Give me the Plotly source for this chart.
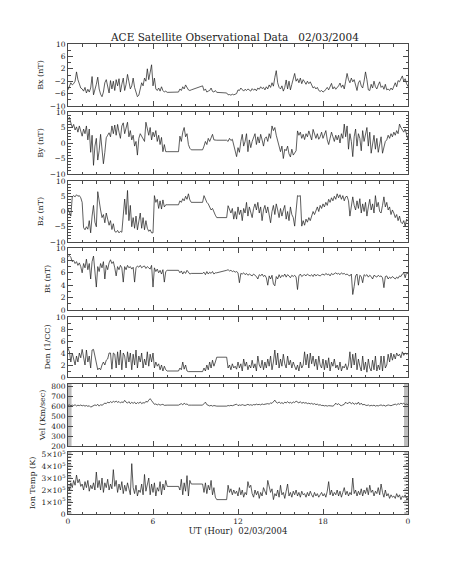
import plotly.graph_objects as go

N = None
# time grid in hours (0.1 h steps), gaps = None (connected straight, as in the source plot)
hours = [round(i * 0.1, 1) for i in range(241)]

bx = [
 -4.8,-3.5,-2.5,-3.2,-2.8,-2.0,1.0,-1.5,-3.0,-4.2,
 -4.5,-5.2,-4.0,-5.8,-4.6,-5.5,-4.2,-0.5,-6.4,-5.0,
 -3.0,-0.7,-4.5,-6.2,-7.0,-5.5,-2.5,-1.5,-4.0,-5.8,
 -1.8,-4.5,-2.0,-5.0,-1.5,-3.5,-1.2,-5.5,-3.0,-1.0,
 -5.0,-3.0,0.2,-2.5,-4.5,-3.5,-1.0,-4.0,-6.0,-7.0,
 -6.5,-4.5,-2.5,-3.5,-1.0,-2.0,2.0,-1.5,0.5,3.3,
 -3.5,-1.0,-4.5,-5.0,-4.2,-5.2,-3.8,-5.0,-5.5,-5.2,
 -5.6,N,N,N,N,N,N,N,-5.5,-4.5,
 -5.0,-3.8,-4.5,-3.2,-4.0,-4.8,-5.0,-4.8,N,N,
 N,N,N,N,N,-3.5,-5.0,-4.5,-5.5,-5.2,
 -5.0,-4.2,-5.3,-5.5,-5.0,-5.6,N,N,N,N,
 N,N,-5.8,-6.4,-6.3,-6.5,-6.2,-6.4,-6.3,-6.0,
 -4.8,-5.0,-4.2,-4.8,-5.2,-4.6,-5.0,-4.5,-4.8,-5.2,
 -4.4,-4.9,-4.5,-5.1,-4.2,-4.6,-3.8,-4.4,-4.0,-4.8,
 -3.8,-4.5,-3.2,-4.0,-2.5,-3.6,-0.8,1.4,-2.5,-4.0,
 -4.5,-3.5,-5.2,-4.0,-1.6,-4.5,-2.0,-4.8,-3.0,-1.5,
 0.5,-2.0,-1.2,-2.5,-1.0,-2.8,-1.5,-2.2,-3.0,-2.0,
 -2.8,-2.2,-3.5,-4.2,-3.8,-4.5,-4.0,-5.0,-5.3,-5.0,
 -5.5,-5.2,-4.6,-4.0,-4.8,-3.5,-2.7,-4.5,-3.8,-4.6,
 -4.2,-3.5,-2.6,-4.0,-3.2,-4.5,-2.0,0.5,-1.5,-2.5,
 -1.0,-2.2,-1.5,-3.0,-5.0,-2.5,-1.8,-3.5,-4.2,-2.0,
 1.0,-1.5,-4.8,-5.0,-3.0,-4.2,-2.0,-3.8,-4.5,-3.2,
 -2.2,-4.0,-3.5,-4.6,-3.0,-4.8,-4.5,-5.0,-4.2,-4.8,
 -3.5,-2.5,-3.8,-1.8,-2.2,-1.0,-0.3,-2.0,-1.2,-2.8,
 -3.7]

by = [
 7.5,8.3,6.5,5.0,6.0,4.2,5.2,3.5,5.5,4.0,
 2.2,4.5,3.0,5.5,1.0,4.5,-3.0,2.5,-7.2,-1.0,
 1.5,-5.5,-2.5,2.8,-1.5,-6.7,-3.0,1.7,2.5,3.3,
 2.0,5.5,3.0,5.8,2.5,6.0,3.5,1.5,5.5,6.5,
 3.0,5.0,6.7,2.0,4.0,1.0,2.5,-1.0,0.5,-3.9,
 1.5,3.0,2.0,1.0,0.5,6.7,4.0,2.5,5.0,1.0,
 3.5,2.0,4.0,0.5,2.5,-0.5,1.8,-2.8,-0.5,-2.8,
 -2.8,N,N,N,N,N,N,N,-2.8,2.2,
 0.5,3.5,5.0,2.0,3.0,-0.5,-1.7,-2.2,N,N,
 N,N,N,N,N,-2.2,-1.0,0.5,-0.5,1.5,
 0.5,2.0,2.8,1.0,0.9,0.9,N,N,N,N,
 N,N,0.9,0.5,1.5,0.8,1.2,-1.0,-2.5,-4.4,
 -1.5,-3.0,0.5,2.8,-1.0,0.5,3.0,-2.8,1.0,-1.5,
 0.5,1.5,3.0,-0.5,2.0,0.0,2.8,1.0,-1.0,1.5,
 2.0,0.5,3.0,1.5,5.5,4.0,5.0,2.5,0.5,-1.0,
 -2.8,-1.0,-5.0,-2.0,-2.5,-1.0,-3.5,-4.5,-2.0,-3.9,
 -3.0,-2.5,3.9,2.5,3.5,1.5,2.8,1.1,3.0,2.0,
 3.9,2.0,1.0,4.4,2.5,1.5,3.0,1.2,2.0,3.5,
 1.5,2.5,4.0,1.0,-0.5,1.5,3.5,2.0,0.5,2.5,
 1.0,2.5,0.0,3.0,1.5,6.1,2.0,5.5,-2.0,3.0,
 0.5,-4.4,2.0,4.5,-1.0,3.0,1.5,-2.5,4.0,0.5,
 2.5,5.0,-1.0,3.5,-3.3,0.5,2.5,-2.0,1.5,-3.0,
 0.0,2.0,-3.3,-1.5,0.5,1.0,2.5,1.5,3.0,2.0,
 3.5,2.5,4.0,3.0,6.1,5.0,4.0,3.5,4.5,3.0,
 1.0]

bz = [
 0.8,-0.3,-1.5,4.8,5.2,4.8,5.5,5.0,5.2,4.5,
 3.0,-5.3,-6.0,-5.0,-5.8,-3.0,-7.0,-1.5,2.0,-3.5,
 -5.0,6.5,3.0,0.5,-2.0,-1.0,-3.7,-0.5,-2.5,-4.5,
 -3.0,-5.9,-4.0,-6.5,-6.8,-6.2,-7.0,-6.5,-6.8,-2.0,
 4.1,-1.0,6.9,-3.0,2.0,-5.0,-2.0,-5.5,-1.5,-6.0,
 -3.5,-0.5,-5.5,-2.0,-6.0,-3.0,-5.5,-6.5,-6.0,-7.0,
 -7.0,5.2,3.0,4.0,1.0,3.5,0.8,3.8,1.5,2.2,
 2.2,N,N,N,N,N,N,N,2.2,3.5,
 3.0,4.2,3.5,5.0,4.0,5.8,3.8,3.0,N,N,
 N,N,N,N,N,3.0,5.2,4.0,3.0,2.5,
 1.5,0.5,1.0,-0.5,-1.2,-2.0,N,N,N,N,
 N,N,-2.0,1.9,0.5,-0.5,1.0,-2.5,0.0,-2.5,
 1.5,-1.0,0.5,-3.0,1.0,-0.5,3.0,-1.5,1.5,0.0,
 -2.0,1.0,2.5,0.5,3.0,-0.5,1.5,-3.0,0.5,2.0,
 -0.5,1.5,-1.5,-3.7,0.0,2.0,-1.0,2.5,0.5,-2.0,
 1.0,-1.5,0.5,2.0,-2.5,0.0,-3.0,1.5,-1.0,-2.0,
 -4.8,0.5,5.2,5.0,5.2,-4.8,-3.0,-4.5,-2.5,-3.5,
 -2.0,-3.0,-1.5,0.0,-1.0,0.5,1.5,0.0,2.0,1.0,
 2.5,1.5,3.0,2.0,4.0,3.0,4.5,3.5,5.0,4.0,
 5.8,4.5,5.5,4.0,5.2,3.5,4.8,5.0,3.5,-1.5,
 1.0,4.8,2.0,0.5,3.5,1.0,4.2,-0.5,2.5,0.0,
 3.0,-1.5,1.5,4.0,0.5,2.5,-0.5,5.2,1.5,3.0,
 0.0,-0.5,2.0,4.8,1.5,3.0,0.5,1.5,-1.0,0.5,
 -0.5,-2.0,-1.0,-3.0,-1.5,-3.5,-4.0,-3.0,-4.8,-2.5,
 -3.0]

bt = [
 8.6,8.8,8.5,7.8,8.0,7.5,7.8,7.2,7.6,7.0,
 6.0,7.5,6.8,8.2,6.5,7.5,5.0,7.8,8.7,6.5,
 3.7,7.0,6.2,7.5,6.8,7.8,5.0,7.2,6.5,7.6,
 8.1,7.5,7.8,6.8,5.5,7.0,6.5,7.2,6.8,4.5,
 7.0,6.5,7.2,6.8,7.0,6.6,6.9,4.5,6.8,7.1,
 6.9,7.2,6.8,7.0,7.1,6.7,7.0,6.8,6.6,7.2,
 3.7,6.8,6.2,6.6,6.0,6.4,5.8,6.5,4.5,6.2,
 6.4,N,N,N,N,N,N,N,6.4,6.0,
 6.3,5.8,6.2,5.9,6.4,6.0,5.8,5.9,N,N,
 N,N,N,N,N,5.9,6.1,5.7,6.2,5.8,
 6.1,5.9,6.2,5.8,6.0,6.0,N,N,N,N,
 N,N,6.4,6.5,6.3,6.4,6.2,6.3,6.1,6.2,
 6.0,4.4,5.9,5.8,6.0,5.7,5.9,5.6,5.8,5.7,
 5.5,5.8,5.6,5.4,5.0,5.7,5.5,5.8,5.4,5.6,
 5.2,4.0,5.5,5.0,5.6,4.2,3.9,5.4,5.0,5.7,
 5.2,5.6,5.4,5.8,5.3,5.7,5.5,5.2,5.6,5.4,
 5.6,5.3,3.3,5.5,5.8,5.4,5.6,5.7,5.5,5.8,
 5.6,5.5,5.7,5.4,5.8,5.5,5.7,5.6,5.5,5.7,
 5.8,5.6,5.9,5.7,5.8,5.5,5.9,5.7,5.8,6.0,
 5.8,5.9,5.7,6.0,5.8,5.9,5.7,5.8,5.6,5.5,
 5.8,2.5,3.8,5.5,5.8,4.0,5.6,5.4,4.4,5.7,
 5.5,5.7,5.3,5.6,5.4,5.0,5.6,5.5,5.3,5.6,
 5.4,5.5,5.2,3.6,5.4,5.5,5.0,5.3,5.1,5.4,
 5.2,5.0,5.3,5.1,5.5,5.4,5.8,6.0,5.2,6.1,
 5.8]

den = [
 4.8,4.2,2.5,4.0,3.0,2.0,3.5,2.5,4.0,3.2,
 4.6,3.0,2.0,4.5,2.5,3.5,1.5,4.5,4.6,3.5,
 2.0,1.2,1.5,1.2,2.0,2.5,2.0,2.8,3.0,4.0,
 4.0,1.3,4.0,3.8,1.5,4.2,2.0,4.5,1.2,4.0,
 3.5,1.5,4.2,2.5,4.0,1.2,3.8,2.0,4.5,1.5,
 3.5,2.5,4.0,1.5,3.0,2.0,4.2,1.8,3.8,2.5,
 4.0,1.5,2.5,1.8,2.2,1.2,2.0,1.0,1.8,1.2,
 1.0,N,N,N,N,N,N,N,1.0,1.5,
 1.2,2.5,1.3,2.0,1.0,0.9,0.9,0.9,N,N,
 N,N,N,N,N,0.9,1.5,1.0,2.0,1.2,
 2.5,1.5,2.8,1.8,2.5,3.3,N,N,N,N,
 N,N,3.3,1.5,2.0,1.2,2.2,1.5,1.8,1.3,
 2.5,1.5,2.2,1.0,3.0,1.8,2.5,1.2,2.0,1.5,
 2.8,1.5,2.2,1.0,3.5,2.0,1.5,2.8,1.2,2.5,
 1.5,3.0,1.8,3.5,1.2,2.5,4.5,2.0,4.0,1.5,
 3.0,1.8,3.8,2.2,1.5,3.5,2.0,2.8,1.5,2.5,
 1.8,1.2,2.0,1.0,2.5,1.5,2.0,4.2,2.0,3.8,
 1.5,4.0,2.2,3.5,1.8,3.0,1.2,3.5,2.0,1.5,
 3.0,1.2,2.8,1.5,3.2,1.0,2.5,1.8,3.0,1.5,
 2.0,1.2,2.5,1.0,1.8,1.5,2.2,1.2,2.0,4.2,
 1.5,3.8,2.0,4.0,1.2,3.0,1.8,1.0,3.5,1.2,
 2.5,0.8,3.0,1.5,1.0,2.8,1.2,3.5,1.0,2.0,
 1.2,3.5,1.0,3.5,1.5,2.0,3.8,2.5,4.0,2.8,
 3.8,3.0,4.0,3.5,3.8,3.2,4.2,3.6,4.0,3.8,
 3.9]

vel = [
 608,612,604,610,606,614,602,609,605,611,
 603,608,600,606,598,604,590,596,602,612,
 606,618,600,615,608,622,630,625,640,632,
 645,635,648,640,650,638,646,632,642,636,
 658,640,630,645,625,638,628,640,622,636,
 628,642,625,635,630,648,640,660,675,655,
 640,618,622,612,620,610,615,618,608,612,
 610,N,N,N,N,N,N,N,610,615,
 625,612,630,618,622,610,612,610,N,N,
 N,N,N,N,N,610,625,640,615,605,
 602,608,600,606,600,600,N,N,N,N,
 N,N,600,606,603,608,604,610,612,620,
 605,612,608,615,610,606,612,618,610,614,
 608,616,612,620,614,618,612,622,616,620,
 618,625,620,632,628,640,660,638,630,642,
 628,635,625,640,632,645,630,638,628,642,
 636,650,640,632,645,628,638,630,635,625,
 630,622,628,618,625,615,620,610,614,606,
 608,602,606,600,605,603,608,600,610,630,
 615,625,610,605,612,618,640,625,632,640,
 622,635,618,628,620,640,615,630,612,618,
 610,606,612,602,608,604,610,600,606,602,
 608,612,604,610,600,606,612,608,604,610,
 615,620,612,625,618,630,622,628,616,620,
 615]

temp_e5 = [
 2.3,2.0,2.6,2.2,2.8,2.4,3.25,2.6,2.9,2.3,
 2.5,2.0,2.7,2.2,2.8,1.9,2.4,2.1,2.6,2.0,
 3.5,2.2,2.8,2.0,3.0,1.8,2.6,2.2,2.9,2.0,
 2.5,2.1,3.7,2.3,2.8,1.8,2.5,2.0,2.7,1.7,
 2.4,1.9,2.6,2.0,1.6,4.2,2.2,1.7,2.4,1.5,
 2.0,1.8,2.5,1.6,3.3,1.9,2.4,3.0,1.6,2.5,
 1.8,2.6,1.5,2.2,1.9,2.7,1.6,2.5,2.0,2.8,
 2.3,N,N,N,N,N,N,N,2.3,2.0,
 2.9,1.6,2.6,1.9,3.2,1.5,2.8,2.5,N,N,
 N,N,N,N,N,2.5,1.8,2.6,1.7,2.4,
 2.0,2.8,1.6,2.2,1.4,1.2,N,N,N,N,
 N,N,1.2,2.4,1.8,2.1,1.6,2.0,1.7,1.9,
 1.5,2.2,1.6,2.0,1.4,1.8,1.6,2.7,2.2,2.4,
 1.7,1.4,2.0,1.6,1.9,1.3,1.8,1.5,2.2,1.9,
 1.6,2.8,2.3,1.8,2.1,1.2,1.7,1.5,2.0,1.4,
 2.4,1.6,1.8,1.3,1.9,2.5,1.5,1.8,1.4,1.9,
 1.6,2.0,1.5,1.8,1.4,1.9,1.6,1.7,1.4,1.8,
 1.5,1.9,1.6,1.4,1.8,1.5,1.7,1.4,1.6,1.8,
 1.5,1.7,1.4,1.9,2.7,1.6,2.0,1.5,1.8,1.6,
 2.0,1.5,1.9,1.4,1.8,2.2,1.6,1.9,1.5,1.8,
 1.6,3.0,1.7,2.0,1.5,1.9,1.6,2.1,1.5,2.0,
 1.7,2.2,1.6,2.4,1.8,2.0,1.5,1.9,1.7,2.2,
 1.6,2.5,1.8,1.4,2.0,1.5,1.7,1.3,1.6,1.4,
 1.5,1.3,1.7,1.4,1.6,1.2,1.5,1.4,1.6,1.3,
 1.3]
temp = [None if v is None else v * 1e5 for v in temp_e5]

x_tickvals = [0, 6, 12, 18, 24]
x_ticktext = ["0", "6", "12", "18", "0"]
temp_tickvals = [0, 1e5, 2e5, 3e5, 4e5, 5e5]
temp_ticktext = ["0"] + [f"{k}\u00d710<sup>5</sup>" for k in range(1, 6)]

panels = [
    dict(y=bx, title="Bx (nT)", range=[-10, 10], tickvals=[-10, -6, -2, 2, 6, 10], minor=2),
    dict(y=by, title="By (nT)", range=[-10, 10], tickvals=[-10, -5, 0, 5, 10], minor=1),
    dict(y=bz, title="Bz (nT)", range=[-10, 10], tickvals=[-10, -5, 0, 5, 10], minor=1),
    dict(y=bt, title="Bt (nT)", range=[0, 10], tickvals=[0, 2, 4, 6, 8, 10], minor=1),
    dict(y=den, title="Den (1/CC)", range=[0, 10], tickvals=[0, 2, 4, 6, 8, 10], minor=1),
    dict(y=vel, title="Vel (Km/sec)", range=[200, 822], tickvals=[200, 300, 400, 500, 600, 700, 800], minor=None),
    dict(y=temp, title="Ion Temp (K)", range=[0, 5.17e5], tickvals=temp_tickvals,
         ticktext=temp_ticktext, minor=2.5e4),
]

# page body has an 8 px margin, so the figure is 8 px smaller than the window
W, H = 445, 558
ML, MR, MT, MB = 60, 45, 36, 52
panel_px = [(36, 98), (104, 166), (173, 234), (240, 302), (309, 369), (376, 438), (444, 506)]
plot_h = H - MT - MB

FONT = "DejaVu Serif"
AX = "#4a4a4a"
TICKFONT = dict(family=FONT, size=7.5, color="#222")
fig = go.Figure()
layout = dict(
    width=W, height=H,
    margin=dict(l=ML, r=MR, t=MT, b=MB, autoexpand=False),
    paper_bgcolor="white", plot_bgcolor="white",
    showlegend=False,
    font=dict(family=FONT, size=8, color="#222"),
    title=dict(text="ACE Satellite Observational Data   02/03/2004",
               x=0.51, xanchor="center", y=1 - 29 / H, yanchor="middle",
               font=dict(family=FONT, size=10.5, color="#222")),
)
shapes = []
n = len(panels)
for i, p in enumerate(panels):
    k = i + 1
    sx = "" if k == 1 else str(k)
    top, bot = panel_px[i]
    dom = [(H - MB - bot) / plot_h, (H - MB - top) / plot_h]
    fig.add_trace(go.Scatter(x=hours, y=p["y"], mode="lines", connectgaps=True,
                             line=dict(color="#1a1a1a", width=0.7),
                             xaxis="x" + sx, yaxis="y" + sx, hoverinfo="skip"))
    last = (k == n)
    xa = dict(
        domain=[0, 1], anchor="y" + sx, range=[0, 24], automargin=False,
        tickvals=x_tickvals, ticktext=x_ticktext, showticklabels=last,
        ticks="inside", ticklen=5, tickcolor=AX, mirror="ticks",
        showline=True, linecolor=AX, linewidth=1, showgrid=False, zeroline=False,
        minor=dict(dtick=1, tick0=0, ticks="inside", ticklen=2.5, tickcolor=AX, showgrid=False),
        tickfont=TICKFONT,
    )
    if last:
        xa["title"] = dict(text="UT (Hour)  02/03/2004", standoff=2, font=dict(family=FONT, size=8.5))
    if k > 1:
        xa["matches"] = "x"
    layout["xaxis" + sx] = xa
    ya = dict(
        domain=dom, anchor="x" + sx, range=p["range"], automargin=False,
        tickvals=p["tickvals"], ticks="inside", ticklen=5, tickcolor=AX, mirror="ticks",
        showline=True, linecolor=AX, linewidth=1, showgrid=False, zeroline=False,
        tickfont=TICKFONT,
        title=dict(text=p["title"], standoff=4, font=dict(family=FONT, size=8)),
    )
    if p["minor"]:
        ya["minor"] = dict(dtick=p["minor"], ticks="inside", ticklen=2.5, tickcolor=AX, showgrid=False)
    if "ticktext" in p:
        ya["ticktext"] = p["ticktext"]
    layout["yaxis" + sx] = ya

# grey data-flag strips at the edges of the velocity and temperature panels
for x0, x1 in [(0, 0.25), (23.72, 24)]:
    shapes.append(dict(type="rect", xref="x6", yref="y6 domain", x0=x0, x1=x1, y0=0, y1=1,
                       fillcolor="#bdbdbd", line=dict(width=0), layer="below"))
for xc in [0.12, 23.86]:
    shapes.append(dict(type="line", xref="x7", yref="y7 domain", x0=xc, x1=xc, y0=0, y1=1,
                       line=dict(color="#bdbdbd", width=3.5, dash="2px,2px"), layer="below"))
layout["shapes"] = shapes
fig.update_layout(**layout)
fig.write_html("out.html")
